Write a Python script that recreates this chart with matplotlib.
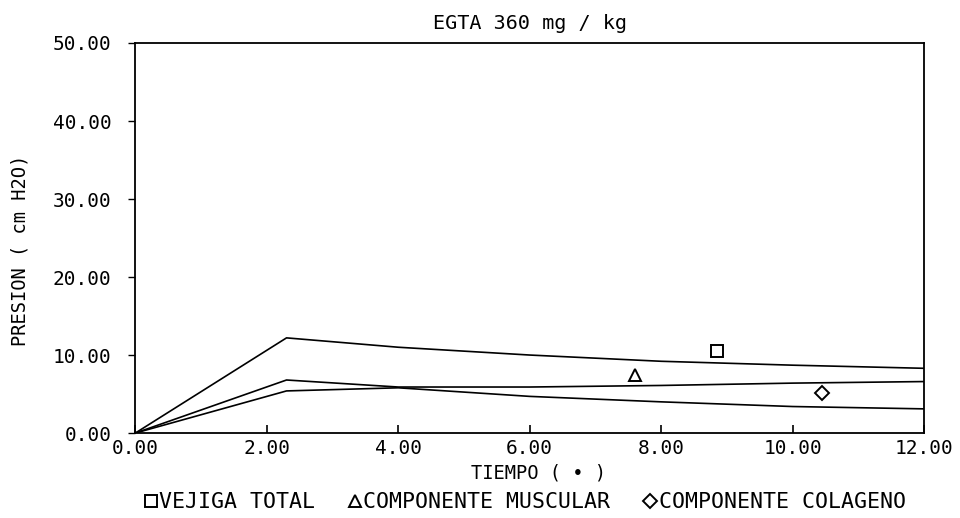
import matplotlib.pyplot as plt
import numpy as np

# datos
tiempo = [0.0, 2.3, 4.0, 6.0, 8.0, 10.0, 12.0]
vejiga_total = [0.0, 12.2, 11.0, 10.0, 9.2, 8.7, 8.3]
comp_muscular = [0.0, 6.8, 5.9, 5.9, 6.1, 6.4, 6.6]
comp_colageno = [0.0, 5.4, 5.8, 4.7, 4.0, 3.4, 3.1]

# posicion de los simbolos de cada curva
marca_x = [8.85, 7.6, 10.45]
marca_y = [10.5, 7.4, 5.1]
nombres = ["VEJIGA TOTAL", "COMPONENTE MUSCULAR", "COMPONENTE COLAGENO"]
simbolos = ["s", "^", "D"]

xticks = [0, 2, 4, 6, 8, 10, 12]
yticks = [0, 10, 20, 30, 40, 50]

plt.rcParams['font.family'] = ['DejaVu Sans Mono', 'DejaVu Sans']

fig = plt.figure(figsize=(9.6, 5.18), dpi=100)
ax = fig.add_axes([0.141, 0.164, 0.8215, 0.753])

for serie in [vejiga_total, comp_muscular, comp_colageno]:
    ax.plot(tiempo, serie, color="black", lw=1.2)

handles = []
for i in range(3):
    ms = 8.5 if simbolos[i] != "D" else 7
    h, = ax.plot(marca_x[i], marca_y[i], linestyle="none", marker=simbolos[i],
                 markersize=ms, markerfacecolor="white", markeredgecolor="black",
                 markeredgewidth=1.4, label=nombres[i])
    handles.append(h)

ax.set_xlim(0, 12)
ax.set_ylim(0, 50)
ax.set_xticks(xticks)
ax.set_yticks(yticks)
ax.set_xticklabels(["%.2f" % v for v in xticks], fontsize=14)
ax.set_yticklabels(["%.2f" % v for v in yticks], fontsize=14)
ax.tick_params(axis="x", direction="in", length=6, width=1.2, pad=4)
ax.tick_params(axis="y", direction="out", length=5, width=1.0, pad=12)
for s in ax.spines.values():
    s.set_linewidth(1.3)

ax.set_title("EGTA 360 mg / kg", fontsize=14.5, pad=10)
ax.set_xlabel("TIEMPO ( • )", fontsize=13.5)
ax.xaxis.set_label_coords(0.511, -0.103)
ax.xaxis.label.set_va("center")
ax.set_ylabel("PRESION ( cm H2O)", fontsize=13.5)
ax.yaxis.set_label_coords(-0.146, 0.469)
ax.yaxis.label.set_va("center")

fig.legend(handles=handles, loc="center", bbox_to_anchor=(0.547, 0.03), ncol=3,
           frameon=False, fontsize=15.5, handlelength=0.55, handletextpad=0.1,
           columnspacing=1.6, borderaxespad=0)

fig.savefig("out.png", dpi=100)
